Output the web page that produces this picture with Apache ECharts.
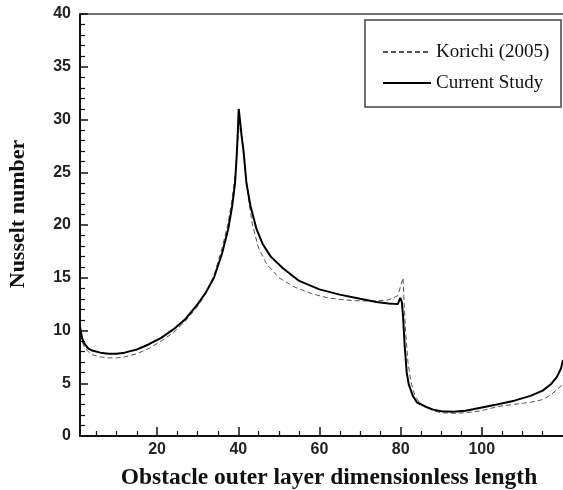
<!DOCTYPE html>
<html>
<head>
<meta charset="utf-8">
<script src="https://cdn.jsdelivr.net/npm/echarts@6/dist/echarts.min.js"></script>
<style>
  html, body { margin: 0; padding: 0; background: #fff; }
  #chart { width: 563px; height: 490px; }
</style>
</head>
<body>
<div id="chart"></div>
<script>
// data
const studyX = [1, 1.5, 2, 3, 4, 6, 8, 10, 12, 15, 18, 21, 24, 27, 30, 32, 34, 36, 37.5, 38.5, 39.2, 39.6, 39.9, 40.1, 40.4, 40.8, 41.3, 42, 43, 44.5, 46, 48, 51, 55, 60, 65, 70, 74, 77, 79.3, 79.9, 80.3, 80.6, 81, 81.5, 82, 83, 84, 86, 88, 90, 93, 96, 100, 104, 108, 112, 115, 117, 118.5, 119.5, 120];
const studyY = [10.4, 9.3, 8.8, 8.3, 8.1, 7.9, 7.8, 7.8, 7.9, 8.2, 8.7, 9.3, 10.1, 11.1, 12.5, 13.6, 15.0, 17.3, 19.6, 21.8, 24.0, 26.5, 29.0, 31.0, 30.0, 28.5, 27.0, 24.0, 21.8, 19.6, 18.2, 17.0, 15.9, 14.7, 13.9, 13.4, 13.0, 12.7, 12.55, 12.5, 13.1, 12.7, 11.3, 8.5, 6.0, 4.9, 3.8, 3.2, 2.8, 2.5, 2.35, 2.3, 2.4, 2.7, 3.0, 3.35, 3.8, 4.3, 4.9, 5.6, 6.4, 7.2];

const korichiX = [1, 1.5, 2, 3, 4, 6, 8, 10, 12, 15, 18, 21, 24, 27, 30, 32, 34, 36, 37.5, 38.5, 39.3, 39.8, 40.3, 40.7, 41.2, 41.8, 42.5, 43.5, 45, 47, 50, 54, 58, 62, 66, 70, 74, 77, 79.3, 80, 80.6, 80.8, 81.2, 81.8, 82.5, 83.5, 85, 88, 90, 93, 96, 100, 104, 108, 112, 115, 117, 118.5, 120];
const korichiY = [10.4, 9.0, 8.5, 8.0, 7.7, 7.5, 7.4, 7.4, 7.5, 7.8, 8.3, 9.0, 9.8, 10.9, 12.3, 13.5, 15.2, 17.8, 20.2, 22.5, 25.0, 27.5, 29.8, 28.8, 27.0, 25.0, 22.5, 20.0, 17.8, 16.3, 15.0, 14.1, 13.5, 13.1, 12.9, 12.8, 12.8, 12.9, 13.3, 14.2, 15.0, 13.0, 10.0, 7.0, 5.2, 3.8, 3.0, 2.4, 2.2, 2.15, 2.2, 2.4, 2.8, 3.0, 3.2, 3.45, 3.9, 4.4, 4.9];

const xLabelValues = [20, 40, 60, 80, 100];
const xMinorValues = [5, 10, 15, 25, 30, 35, 45, 50, 55, 65, 70, 75, 85, 90, 95, 105, 110, 115];
const seriesNames = ['Korichi (2005)', 'Current Study'];

const pairs = (xs, ys) => xs.map((x, i) => [x, ys[i]]);

const chart = echarts.init(document.getElementById('chart'));

const xBase = { type: 'value', min: 1, max: 120, gridIndex: 0, splitLine: { show: false } };

chart.setOption({
    backgroundColor: '#fff',
    animation: false,
    grid: { left: 80, top: 14, right: 0, bottom: 54, containLabel: false, outerBoundsMode: 'none' },
    legend: {
        data: seriesNames,
        orient: 'vertical',
        left: 382,
        top: 42,
        padding: 0,
        itemWidth: 48,
        itemHeight: 14,
        itemGap: 11,
        itemStyle: { opacity: 0 },
        textStyle: { fontFamily: 'Liberation Serif', fontSize: 19, color: '#111', lineHeight: 20 }
    },
    xAxis: [
        Object.assign({}, xBase, {
            position: 'bottom',
            axisLine: { lineStyle: { color: '#111', width: 2 } },
            axisTick: { inside: true, length: 9, customValues: xLabelValues, lineStyle: { color: '#111', width: 1.5 } },
            axisLabel: { customValues: xLabelValues, margin: 6, fontFamily: 'Liberation Sans', fontWeight: 'bold', fontSize: 16, color: '#222' }
        }),
        Object.assign({}, xBase, {
            position: 'bottom',
            axisLine: { show: false },
            axisTick: { inside: true, length: 5, customValues: xMinorValues, lineStyle: { color: '#111', width: 1.2 } },
            axisLabel: { show: false }
        }),
        Object.assign({}, xBase, {
            position: 'top',
            axisLine: { lineStyle: { color: '#444', width: 1.5 } },
            axisTick: { show: false },
            axisLabel: { show: false }
        })
    ],
    yAxis: {
        type: 'value',
        min: 0,
        max: 40,
        interval: 5,
        axisLine: { show: true, lineStyle: { color: '#111', width: 2 } },
        axisTick: { inside: true, length: 8, lineStyle: { color: '#111', width: 1.5 } },
        minorTick: { show: true, splitNumber: 5, length: 5, lineStyle: { color: '#111', width: 1.2 } },
        splitLine: { show: false },
        axisLabel: { margin: 9, fontFamily: 'Liberation Sans', fontWeight: 'bold', fontSize: 16, color: '#222' }
    },
    graphic: [
        {
            type: 'rect',
            shape: { x: 365, y: 20, width: 196, height: 87 },
            style: { fill: 'none', stroke: '#444', lineWidth: 1.5 },
            z: 10
        },
        {
            type: 'text',
            x: 329, y: 478,
            style: {
                text: 'Obstacle outer layer dimensionless length',
                font: 'bold 23.5px "Liberation Serif"',
                fill: '#111',
                textAlign: 'center',
                textVerticalAlign: 'middle'
            }
        },
        {
            type: 'text',
            x: 18, y: 214,
            rotation: Math.PI / 2,
            style: {
                text: 'Nusselt number',
                font: 'bold 22px "Liberation Serif"',
                fill: '#111',
                textAlign: 'center',
                textVerticalAlign: 'middle'
            }
        }
    ],
    series: [
        {
            name: seriesNames[0],
            type: 'line',
            data: pairs(korichiX, korichiY),
            symbol: 'none',
            color: '#555',
            lineStyle: { color: '#555', width: 1, type: [5, 3] },
            z: 2
        },
        {
            name: seriesNames[1],
            type: 'line',
            data: pairs(studyX, studyY),
            symbol: 'none',
            color: '#000',
            lineStyle: { color: '#000', width: 2 },
            z: 3
        }
    ]
});
</script>
</body>
</html>
